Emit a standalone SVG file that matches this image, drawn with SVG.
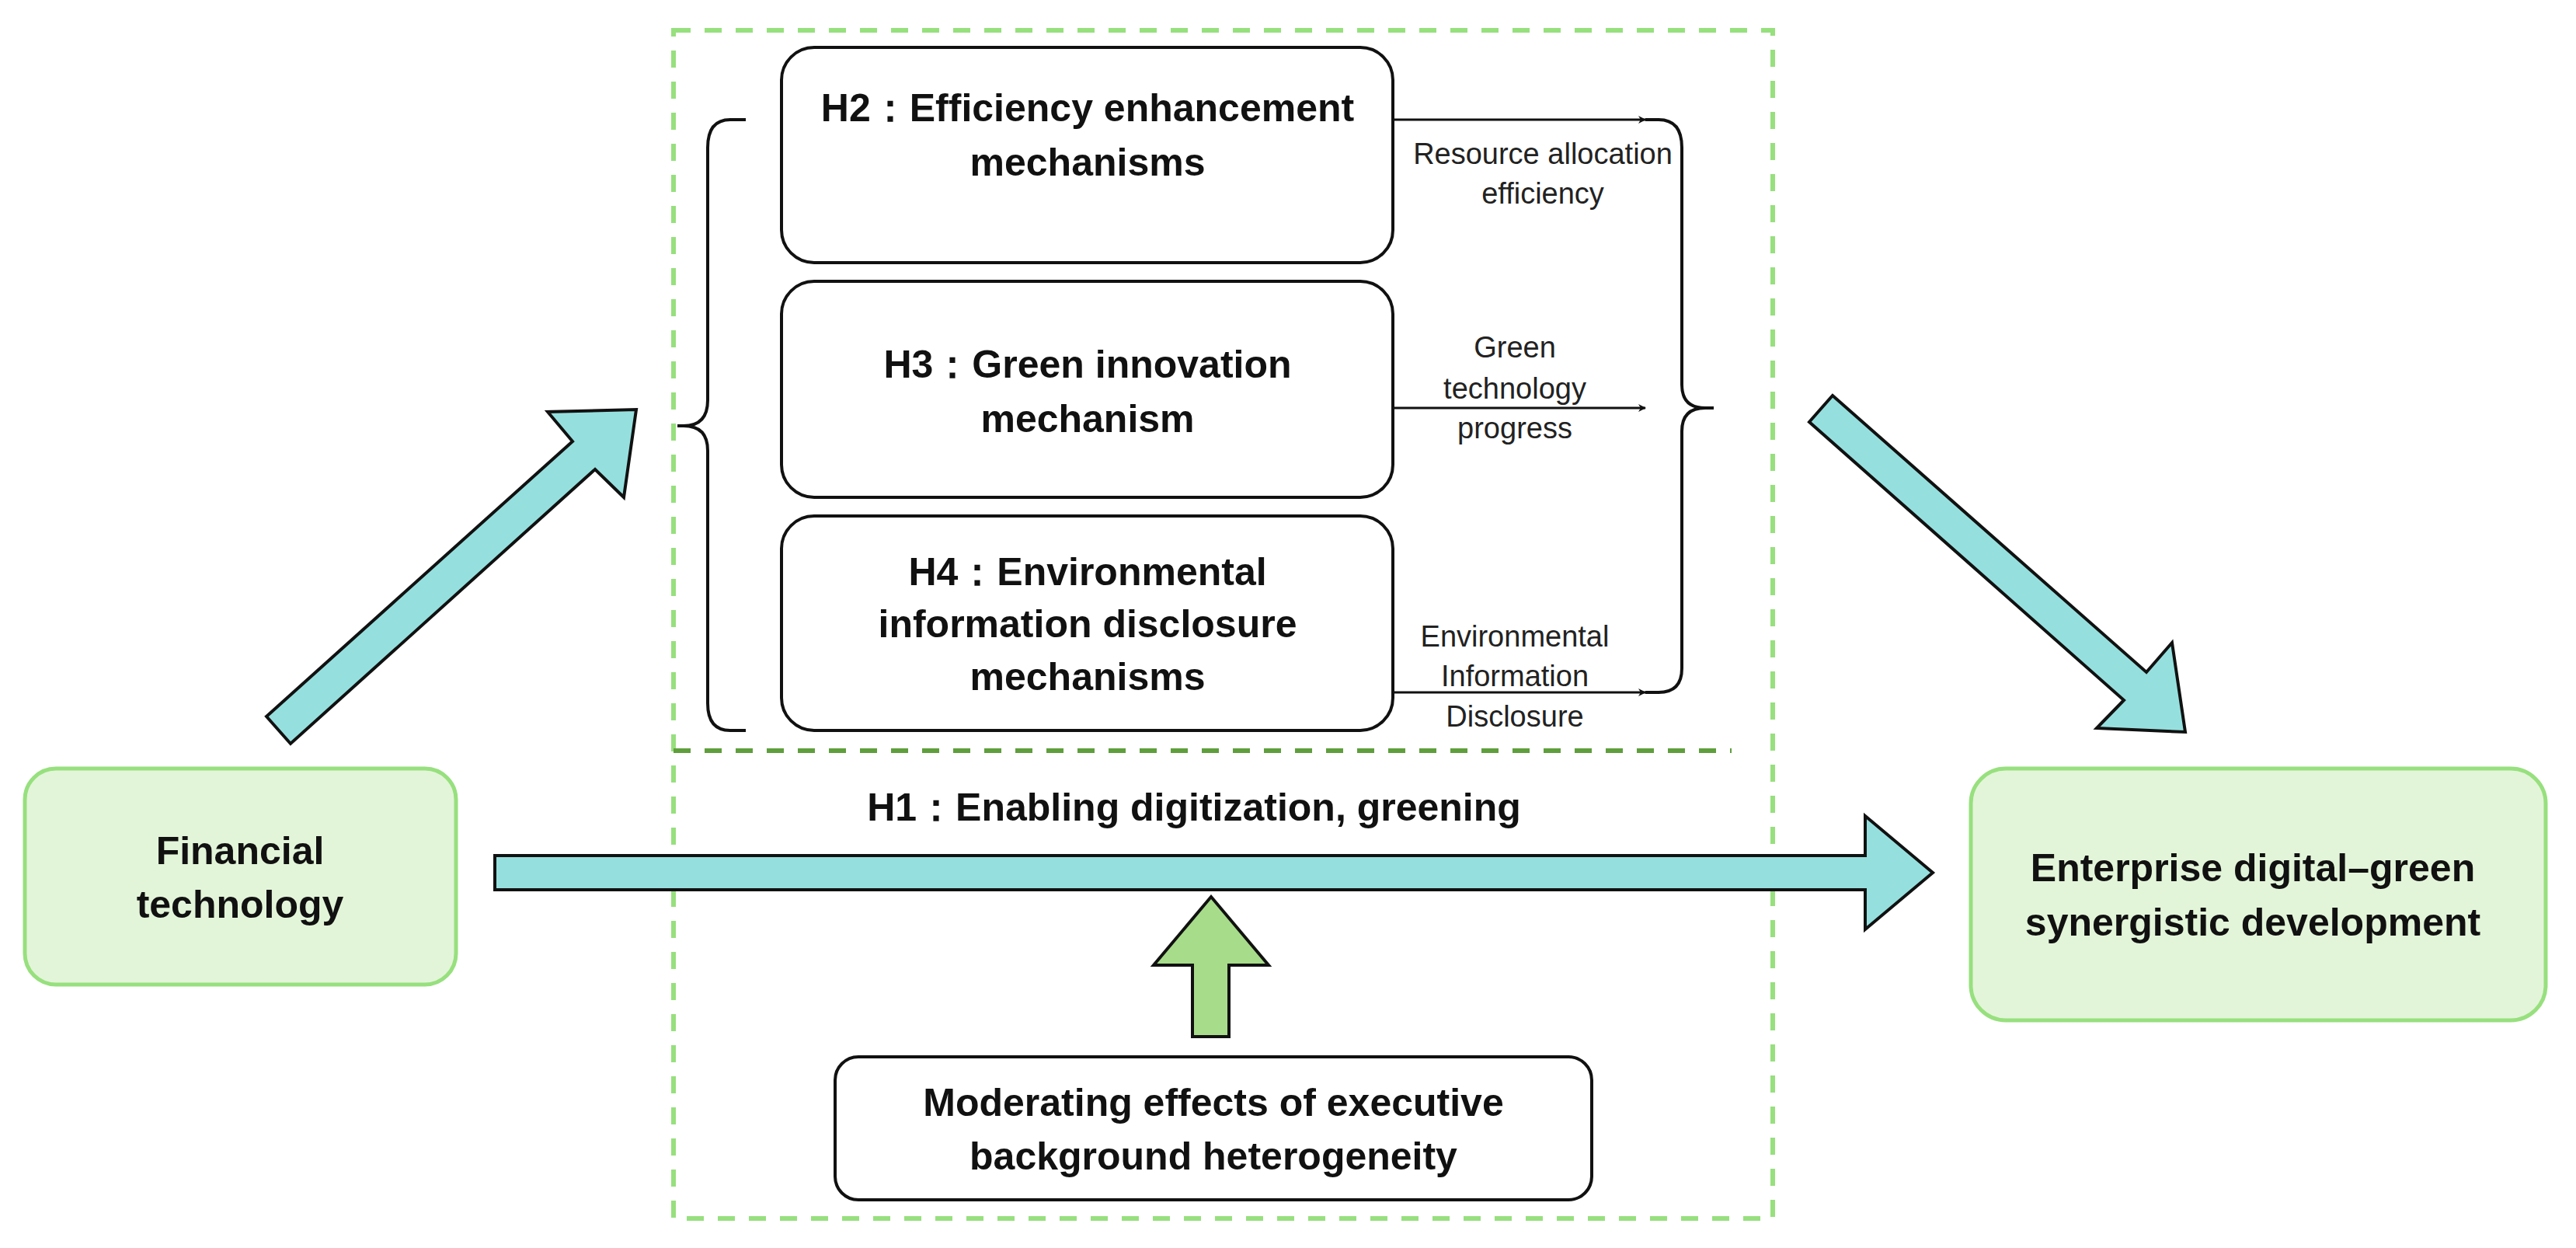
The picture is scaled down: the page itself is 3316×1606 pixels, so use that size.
<svg xmlns="http://www.w3.org/2000/svg" width="3316" height="1606" viewBox="0 0 3316 1606">
<style>
.b{font-family:"Liberation Sans",Arial,sans-serif;font-weight:bold;font-size:50px;text-anchor:middle;fill:#111}
.s{font-family:"Liberation Sans",Arial,sans-serif;font-size:38px;text-anchor:middle;fill:#222}
.box{fill:#fff;stroke:#111;stroke-width:4}
.gbox{fill:#e3f5d9;stroke:#97e07e;stroke-width:5}
.arr{fill:#95e0de;stroke:#111;stroke-width:4;stroke-linejoin:miter}
.ln{fill:none;stroke:#111;stroke-width:4}
</style>
<defs><marker id="ah" markerWidth="10" markerHeight="10" refX="9" refY="5" orient="auto" markerUnits="userSpaceOnUse" viewBox="0 0 10 10"><path d="M0,0 L10,5 L0,10 L3,5 Z" fill="#111"/></marker></defs>
<rect width="3316" height="1606" fill="#fff"/>
<g id="frame">
<path d="M867,39 H2282 V1568 H867 Z" fill="none" stroke="#97e07e" stroke-width="6" stroke-dasharray="22,18"/>
<path d="M867,966 H2229" fill="none" stroke="#5f9e3c" stroke-width="6" stroke-dasharray="22,18"/>
</g>
<g id="fintech"><rect class="gbox" x="32" y="989" width="555" height="278" rx="40"/><text class="b" x="309" y="1112">Financial</text><text class="b" x="309" y="1181">technology</text></g>
<g id="enterprise"><rect class="gbox" x="2537" y="989" width="740" height="324" rx="45"/><text class="b" x="2900" y="1134">Enterprise digital–green</text><text class="b" x="2900" y="1204">synergistic development</text></g>
<g id="h2"><rect class="box" x="1006" y="61" width="787" height="277" rx="42"/><text class="b" x="1400" y="156">H2：Efficiency enhancement</text><text class="b" x="1400" y="226">mechanisms</text></g>
<g id="h3"><rect class="box" x="1006" y="362" width="787" height="278" rx="42"/><text class="b" x="1400" y="486">H3：Green innovation</text><text class="b" x="1400" y="556">mechanism</text></g>
<g id="h4"><rect class="box" x="1006" y="664" width="787" height="276" rx="42"/><text class="b" x="1400" y="753">H4：Environmental</text><text class="b" x="1400" y="820">information disclosure</text><text class="b" x="1400" y="888">mechanisms</text></g>
<g id="moderating"><rect class="box" x="1075" y="1360" width="974" height="184" rx="30"/><text class="b" x="1562" y="1436">Moderating effects of executive</text><text class="b" x="1562" y="1505">background heterogeneity</text></g>
<g id="connectors">
<path class="ln" d="M960,154 H940 Q911,154 911,190 V515 Q911,548 880,548 H872 M880,548 Q911,548 911,580 V905 Q911,940 940,940 H960"/>
<path class="ln" d="M2118,154 H2135 Q2165,154 2165,190 V495 Q2165,525 2195,525 H2206 M2195,525 Q2165,525 2165,555 V860 Q2165,891 2135,891 H2118"/>
<line class="ln" x1="1793" y1="154" x2="2118" y2="154" marker-end="url(#ah)" style="stroke-width:3"/>
<line class="ln" x1="1793" y1="525" x2="2118" y2="525" marker-end="url(#ah)" style="stroke-width:3"/>
<line class="ln" x1="1793" y1="891" x2="2118" y2="891" marker-end="url(#ah)" style="stroke-width:3"/>
<text class="s" x="1986" y="211">Resource allocation</text><text class="s" x="1986" y="262">efficiency</text>
<text class="s" x="1950" y="460">Green</text><text class="s" x="1950" y="513">technology</text><text class="s" x="1950" y="564">progress</text>
<text class="s" x="1950" y="832">Environmental</text><text class="s" x="1950" y="883">Information</text><text class="s" x="1950" y="935">Disclosure</text>
<polygon class="arr" points="343,922 737,568 705,530 819,527 803,640 766,604 374,957"/>
<polygon class="arr" points="2359,509 2763,865 2796,827 2813,942 2699,937 2734,901 2329,543"/>
<polygon class="arr" points="637,1101 2401,1101 2401,1050 2488,1123 2401,1196 2401,1145 637,1145"/>
<polygon points="1535,1334 1535,1242 1485,1242 1559,1154 1633,1242 1582,1242 1582,1334" fill="#a7dc8a" stroke="#111" stroke-width="4"/>
<text class="b" x="1537" y="1056">H1：Enabling digitization, greening</text>
</g>
</svg>
